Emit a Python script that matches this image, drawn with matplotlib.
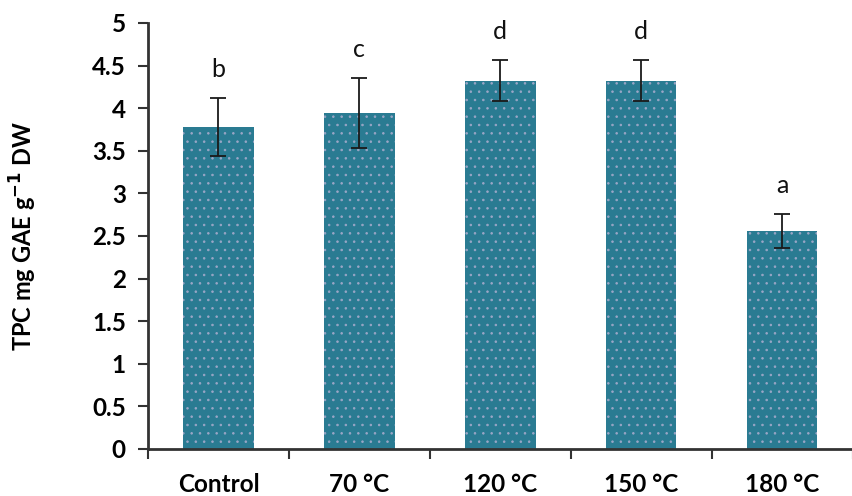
import matplotlib.pyplot as plt
import numpy as np

plt.rcParams['font.family'] = ['Lato', 'DejaVu Sans']
plt.rcParams['hatch.linewidth'] = 0.6

categories = ['Control', '70 °C', '120 °C', '150 °C', '180 °C']
tpc = [3.78, 3.94, 4.32, 4.32, 2.56]
err = [0.34, 0.41, 0.24, 0.24, 0.20]
letters = ['b', 'c', 'd', 'd', 'a']

fig = plt.figure(figsize=(8.53, 4.96), dpi=100)
ax = fig.add_axes([0.1735, 0.0948, 0.826, 0.859])

x = np.arange(len(categories))
ax.bar(x, tpc, width=0.5, color='#2a7b92', edgecolor='#9aa6c6', linewidth=0,
       hatch='..', zorder=2)
ax.errorbar(x, tpc, yerr=err, fmt='none', ecolor='#1a1a1a', elinewidth=1.3,
            capsize=6, capthick=1.3, zorder=3)

for xi, v, e, t in zip(x, tpc, err, letters):
    ax.text(xi, v + e + 0.2, t, ha='center', va='bottom', fontsize=18,
            color='#111111')

ax.set_ylim(0, 5)
ax.set_xlim(-0.5, 4.48)
ax.set_yticks(np.arange(0, 5.01, 0.5))
ax.set_yticklabels(['0', '0.5', '1', '1.5', '2', '2.5', '3', '3.5', '4', '4.5', '5'])
ax.set_xticks(x)
ax.set_xticklabels(categories)
ax.set_xticks(np.arange(-0.5, 4.6, 1), minor=True)

for s in ['top', 'right']:
    ax.spines[s].set_visible(False)
for s in ['left', 'bottom']:
    ax.spines[s].set_linewidth(2)
    ax.spines[s].set_color('#333333')

ax.tick_params(axis='y', direction='out', length=7, width=1.5, color='#333333',
               labelsize=17.5, pad=9)
ax.tick_params(axis='x', which='major', length=0, labelsize=17.5, pad=17)
ax.tick_params(axis='x', which='minor', direction='out', length=7, width=1.5,
               color='#333333')
for lab in ax.get_xticklabels() + ax.get_yticklabels():
    lab.set_fontweight('bold')

ax.set_ylabel('TPC mg GAE g$^{\\mathbf{-1}}$ DW', fontsize=17, fontweight='bold')
ax.yaxis.set_label_coords(-0.155, 0.5)

fig.savefig('out.png', dpi=100)
